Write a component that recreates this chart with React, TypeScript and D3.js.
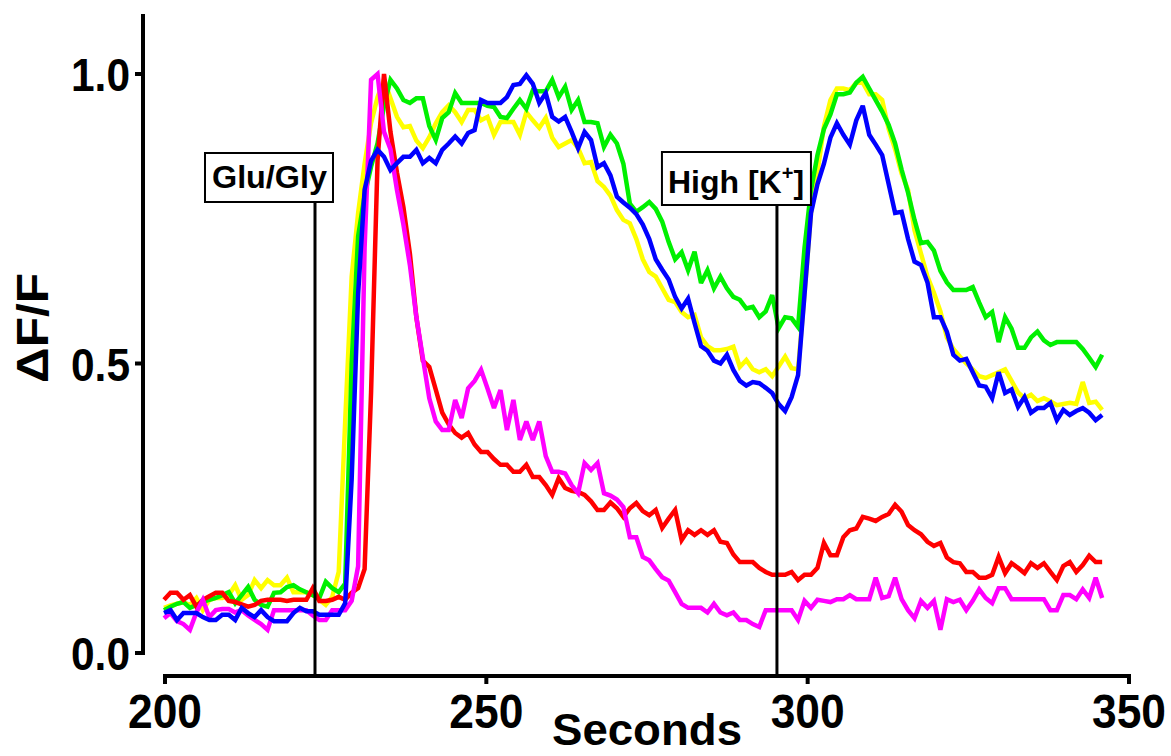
import React from 'react';
import * as d3 from 'd3';

// sample grid of the recording (s)
const T0 = 199.85;
const DT = 1.0067;

const YELLOW = [
  0.078, 0.082, 0.085, 0.088, 0.083, 0.095, 0.074, 0.092, 0.095, 0.095,
  0.100, 0.117, 0.092, 0.100, 0.126, 0.112, 0.126, 0.117, 0.117, 0.130,
  0.105, 0.105, 0.105, 0.100, 0.092, 0.083, 0.097, 0.140, 0.400, 0.650,
  0.760, 0.845, 0.915, 0.960, 0.990, 0.958, 0.926, 0.908, 0.910, 0.885,
  0.872, 0.891, 0.915, 0.934, 0.946, 0.934, 0.917, 0.938, 0.938, 0.920,
  0.926, 0.895, 0.917, 0.917, 0.917, 0.895, 0.934, 0.920, 0.907, 0.924,
  0.890, 0.874, 0.880, 0.886, 0.872, 0.846, 0.848, 0.815, 0.805, 0.790,
  0.765, 0.748, 0.742, 0.715, 0.680, 0.658, 0.650, 0.630, 0.610, 0.606,
  0.589, 0.580, 0.584, 0.545, 0.530, 0.523, 0.523, 0.525, 0.529, 0.494,
  0.506, 0.490, 0.485, 0.490, 0.478, 0.495, 0.512, 0.492, 0.490, 0.620,
  0.760, 0.830, 0.910, 0.955, 0.975, 0.975, 0.972, 0.985, 0.985, 0.965,
  0.965, 0.955, 0.905, 0.870, 0.828, 0.800, 0.730, 0.690, 0.650, 0.622,
  0.590, 0.545, 0.525, 0.512, 0.500, 0.490, 0.478, 0.475, 0.480, 0.485,
  0.490, 0.470, 0.450, 0.440, 0.446, 0.435, 0.440, 0.435, 0.428, 0.430,
  0.432, 0.430, 0.468, 0.432, 0.434, 0.420,
];

const GREEN = [
  0.074, 0.080, 0.085, 0.088, 0.078, 0.083, 0.088, 0.092, 0.095, 0.100,
  0.105, 0.086, 0.100, 0.114, 0.092, 0.083, 0.080, 0.104, 0.105, 0.114,
  0.117, 0.110, 0.105, 0.100, 0.095, 0.123, 0.112, 0.105, 0.120, 0.500,
  0.720, 0.790, 0.840, 0.880, 0.945, 0.990, 0.975, 0.955, 0.950, 0.958,
  0.958, 0.910, 0.886, 0.924, 0.934, 0.967, 0.950, 0.950, 0.950, 0.950,
  0.945, 0.943, 0.926, 0.924, 0.940, 0.955, 0.940, 0.972, 0.970, 0.970,
  0.990, 0.960, 0.978, 0.938, 0.955, 0.917, 0.917, 0.915, 0.874, 0.895,
  0.880, 0.845, 0.776, 0.762, 0.770, 0.779, 0.767, 0.745, 0.710, 0.680,
  0.692, 0.661, 0.693, 0.639, 0.661, 0.630, 0.650, 0.630, 0.615, 0.610,
  0.595, 0.598, 0.580, 0.590, 0.618, 0.561, 0.580, 0.578, 0.563, 0.700,
  0.800, 0.860, 0.905, 0.930, 0.965, 0.965, 0.968, 0.985, 0.995, 0.975,
  0.955, 0.935, 0.912, 0.880, 0.835, 0.795, 0.748, 0.708, 0.710, 0.695,
  0.660, 0.640, 0.627, 0.627, 0.627, 0.632, 0.605, 0.580, 0.589, 0.537,
  0.580, 0.560, 0.527, 0.527, 0.545, 0.555, 0.540, 0.532, 0.537, 0.537,
  0.537, 0.537, 0.525, 0.510, 0.494, 0.515,
];

const RED = [
  0.092, 0.104, 0.104, 0.092, 0.100, 0.080, 0.092, 0.098, 0.104, 0.104,
  0.090, 0.088, 0.084, 0.080, 0.083, 0.090, 0.092, 0.092, 0.092, 0.090,
  0.092, 0.092, 0.092, 0.112, 0.090, 0.090, 0.092, 0.097, 0.092, 0.104,
  0.112, 0.145, 0.450, 0.850, 1.000, 0.900, 0.830, 0.770, 0.690, 0.580,
  0.505, 0.494, 0.455, 0.415, 0.395, 0.380, 0.372, 0.380, 0.360, 0.347,
  0.347, 0.335, 0.325, 0.325, 0.313, 0.313, 0.325, 0.304, 0.304, 0.290,
  0.273, 0.302, 0.285, 0.280, 0.278, 0.273, 0.262, 0.247, 0.247, 0.260,
  0.250, 0.235, 0.250, 0.259, 0.245, 0.238, 0.247, 0.216, 0.232, 0.247,
  0.195, 0.212, 0.204, 0.212, 0.204, 0.212, 0.192, 0.190, 0.170, 0.157,
  0.157, 0.157, 0.147, 0.140, 0.135, 0.135, 0.135, 0.140, 0.126, 0.135,
  0.135, 0.147, 0.190, 0.169, 0.169, 0.200, 0.212, 0.215, 0.235, 0.232,
  0.228, 0.235, 0.240, 0.256, 0.244, 0.221, 0.212, 0.205, 0.192, 0.185,
  0.190, 0.165, 0.157, 0.155, 0.140, 0.140, 0.130, 0.130, 0.135, 0.166,
  0.138, 0.155, 0.147, 0.138, 0.155, 0.147, 0.155, 0.140, 0.126, 0.150,
  0.157, 0.140, 0.152, 0.168, 0.157, 0.157,
];

const MAGENTA = [
  0.060, 0.069, 0.055, 0.050, 0.040, 0.070, 0.092, 0.062, 0.074, 0.076,
  0.076, 0.070, 0.074, 0.065, 0.057, 0.050, 0.040, 0.074, 0.074, 0.074,
  0.074, 0.074, 0.074, 0.065, 0.057, 0.057, 0.074, 0.074, 0.074, 0.090,
  0.150, 0.700, 0.990, 1.000, 0.900, 0.870, 0.800, 0.740, 0.670, 0.580,
  0.510, 0.440, 0.400, 0.385, 0.385, 0.437, 0.406, 0.457, 0.470, 0.489,
  0.457, 0.423, 0.454, 0.385, 0.437, 0.368, 0.400, 0.368, 0.400, 0.340,
  0.313, 0.313, 0.310, 0.290, 0.276, 0.328, 0.316, 0.328, 0.276, 0.272,
  0.265, 0.252, 0.200, 0.200, 0.166, 0.160, 0.145, 0.131, 0.125, 0.105,
  0.085, 0.078, 0.078, 0.078, 0.070, 0.085, 0.070, 0.065, 0.070, 0.057,
  0.057, 0.050, 0.045, 0.074, 0.074, 0.074, 0.074, 0.074, 0.057, 0.090,
  0.078, 0.092, 0.090, 0.088, 0.093, 0.093, 0.100, 0.093, 0.093, 0.093,
  0.130, 0.095, 0.098, 0.130, 0.093, 0.074, 0.060, 0.090, 0.078, 0.090,
  0.040, 0.093, 0.088, 0.092, 0.074, 0.090, 0.110, 0.095, 0.086, 0.112,
  0.112, 0.093, 0.093, 0.093, 0.093, 0.093, 0.093, 0.074, 0.074, 0.100,
  0.100, 0.093, 0.110, 0.095, 0.130, 0.095,
];

const BLUE = [
  0.069, 0.074, 0.057, 0.069, 0.069, 0.069, 0.062, 0.057, 0.057, 0.066,
  0.066, 0.057, 0.078, 0.069, 0.062, 0.074, 0.062, 0.055, 0.055, 0.055,
  0.069, 0.078, 0.072, 0.072, 0.066, 0.066, 0.066, 0.066, 0.086, 0.300,
  0.620, 0.800, 0.850, 0.869, 0.857, 0.834, 0.846, 0.857, 0.857, 0.869,
  0.846, 0.855, 0.846, 0.869, 0.880, 0.892, 0.880, 0.898, 0.903, 0.955,
  0.950, 0.950, 0.950, 0.960, 0.981, 0.983, 0.998, 0.983, 0.950, 0.967,
  0.926, 0.918, 0.926, 0.900, 0.872, 0.900, 0.886, 0.839, 0.846, 0.825,
  0.788, 0.778, 0.769, 0.758, 0.740, 0.715, 0.680, 0.662, 0.645, 0.615,
  0.595, 0.612, 0.570, 0.530, 0.522, 0.505, 0.500, 0.515, 0.489, 0.470,
  0.462, 0.468, 0.466, 0.458, 0.449, 0.430, 0.418, 0.442, 0.480, 0.620,
  0.760, 0.810, 0.845, 0.890, 0.915, 0.895, 0.878, 0.920, 0.945, 0.895,
  0.878, 0.860, 0.810, 0.760, 0.762, 0.715, 0.676, 0.670, 0.640, 0.580,
  0.580, 0.555, 0.515, 0.505, 0.508, 0.485, 0.462, 0.460, 0.440, 0.485,
  0.449, 0.455, 0.425, 0.442, 0.415, 0.423, 0.423, 0.432, 0.402, 0.420,
  0.411, 0.418, 0.423, 0.415, 0.402, 0.411,
];

const SERIES = [
  { name: 'yellow', color: '#ffff00', values: YELLOW },
  { name: 'green', color: '#00f000', values: GREEN },
  { name: 'red', color: '#ff0000', values: RED },
  { name: 'magenta', color: '#ff00ff', values: MAGENTA },
  { name: 'blue', color: '#0000ff', values: BLUE },
];

const X_TICKS = [200, 250, 300, 350];
const X_TICK_LABELS = ['200', '250', '300', '350'];
const Y_TICKS = [0, 0.5, 1.0];
const Y_TICK_LABELS = ['0.0', '0.5', '1.0'];
const EVENT_TIMES = [223.34, 295.22];
const EVENT_LABELS = ['Glu/Gly', 'High [K+]'];

const FONT = "'Liberation Sans', Arial, Helvetica, sans-serif";

export default function App() {
  const W = 1171;
  const H = 756;
  const x = d3.scaleLinear().domain([200, 350]).range([165, 1129]);
  const y = d3.scaleLinear().domain([0, 1]).range([653, 74]);
  const line = d3
    .line<number>()
    .x((_, i) => x(T0 + i * DT))
    .y((d) => y(d));

  const yAxisX = 143;
  const xAxisY = 676;

  // box geometry relative to each event line
  const boxes = [
    { left: -110, right: 18, top: 153, bottom: 202 },
    { left: -115, right: 34, top: 152, bottom: 205 },
  ];

  return (
    <svg
      width={W}
      height={H}
      viewBox={`0 0 ${W} ${H}`}
      style={{ position: 'absolute', left: 0, top: 0, background: '#fff', display: 'block' }}
    >
      <rect x={0} y={0} width={W} height={H} fill="#fff" />

      {/* data lines */}
      {SERIES.map((s) => (
        <path
          key={s.name}
          d={line(s.values) || ''}
          fill="none"
          stroke={s.color}
          strokeWidth={4.5}
          strokeLinejoin="miter"
          strokeMiterlimit={3}
        />
      ))}

      {/* event markers */}
      {EVENT_TIMES.map((t, i) => {
        const ex = x(t);
        const b = boxes[i];
        return (
          <g key={EVENT_LABELS[i]}>
            <line x1={ex} x2={ex} y1={b.bottom} y2={xAxisY} stroke="#000" strokeWidth={3} />
            <rect
              x={ex + b.left}
              y={b.top}
              width={b.right - b.left}
              height={b.bottom - b.top}
              fill="#fff"
              stroke="#000"
              strokeWidth={2}
            />
          </g>
        );
      })}
      <text
        x={x(EVENT_TIMES[0]) - 103}
        y={188}
        fontFamily={FONT}
        fontWeight="bold"
        fontSize={31}
        textLength={115}
        lengthAdjust="spacingAndGlyphs"
      >
        {EVENT_LABELS[0]}
      </text>
      <text x={x(EVENT_TIMES[1]) - 109} y={193} fontFamily={FONT} fontWeight="bold" fontSize={32}>
        High [K
        <tspan fontSize={20} dy={-13}>
          +
        </tspan>
        <tspan dy={13}>]</tspan>
      </text>

      {/* y axis */}
      <line x1={yAxisX} x2={yAxisX} y1={14} y2={655} stroke="#000" strokeWidth={4} />
      {Y_TICKS.map((v, i) => (
        <g key={v}>
          <line x1={yAxisX - 8} x2={yAxisX} y1={y(v)} y2={y(v)} stroke="#000" strokeWidth={4} />
          <text
            x={130}
            y={y(v) + 17}
            textAnchor="end"
            fontFamily={FONT}
            fontWeight="bold"
            fontSize={46}
            textLength={59}
            lengthAdjust="spacingAndGlyphs"
          >
            {Y_TICK_LABELS[i]}
          </text>
        </g>
      ))}
      <text
        transform={`translate(48, 328) rotate(-90)`}
        textAnchor="middle"
        fontFamily={FONT}
        fontWeight="bold"
        fontSize={45}
        textLength={110}
        lengthAdjust="spacingAndGlyphs"
      >
        ΔF/F
      </text>

      {/* x axis */}
      <line x1={163} x2={1131} y1={xAxisY} y2={xAxisY} stroke="#000" strokeWidth={4} />
      {X_TICKS.map((v, i) => (
        <g key={v}>
          <line x1={x(v)} x2={x(v)} y1={xAxisY} y2={xAxisY + 8} stroke="#000" strokeWidth={4} />
          <text
            x={x(v)}
            y={728}
            textAnchor="middle"
            fontFamily={FONT}
            fontWeight="bold"
            fontSize={48}
            textLength={74}
            lengthAdjust="spacingAndGlyphs"
          >
            {X_TICK_LABELS[i]}
          </text>
        </g>
      ))}
      <text
        x={647}
        y={745}
        textAnchor="middle"
        fontFamily={FONT}
        fontWeight="bold"
        fontSize={44}
        textLength={190}
        lengthAdjust="spacingAndGlyphs"
      >
        Seconds
      </text>
    </svg>
  );
}
